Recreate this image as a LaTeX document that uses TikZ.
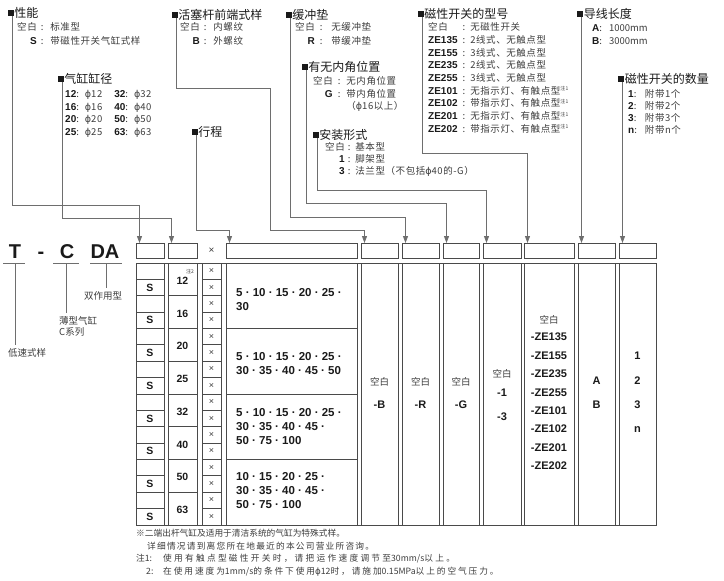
\documentclass[tikz,border=0pt]{standalone}
\usepackage{fontspec}
\setmainfont{Noto Sans CJK SC}
\newfontfamily\hv{Liberation Sans}
\newfontfamily\dv{DejaVu Sans}
\usetikzlibrary{positioning,arrows.meta}
\definecolor{ink}{HTML}{1A1A1A}
\definecolor{txt}{HTML}{3C3C3C}
\definecolor{wirec}{HTML}{6E6E6E}
\definecolor{frame}{HTML}{4A4A4A}
\newcommand{\dia}{{\dv ϕ}}
\newcommand{\code}[1]{{\hv\bfseries\fontsize{10}{12}\selectfont\color{ink}#1}}
\newcommand{\nt}[1]{\raisebox{3.5pt}{\fontsize{5}{5}\selectfont #1}}
\newcommand{\lat}[1]{{\addfontfeatures{LetterSpace=0}#1}}

\begin{document}
\begin{tikzpicture}[
    x=1pt, y=-1pt,
    >={Triangle[length=7pt,width=5pt]},
    sqm/.style={fill=ink, minimum size=6pt, inner sep=0pt},
    ttl/.style={anchor=west, inner sep=0pt, text=ink, font=\fontsize{12}{12}\selectfont},
    opt/.style={anchor=base west, inner sep=0pt, text=txt,
                font=\fontsize{9.5}{12.6}\selectfont\addfontfeatures{LetterSpace=6}},
    wire/.style={draw=wirec, line width=0.9pt},
    grid/.style={draw=frame, line width=0.8pt},
    hbox/.style={grid, inner sep=0pt, minimum height=15pt, anchor=north west},
    cell/.style={inner sep=0pt, text=ink, font=\hv\bfseries\fontsize{10.5}{12}\selectfont},
    code/.style={inner sep=0pt, text=ink, font=\hv\bfseries\fontsize{11}{13}\selectfont},
    stk/.style={anchor=west, align=left, inner sep=0pt, text=ink, font=\hv\bfseries\fontsize{11.5}{14}\selectfont},
    mul/.style={inner sep=0pt, text=txt, font=\hv\fontsize{9}{9}\selectfont},
    blank/.style={inner sep=0pt, text=txt, font=\fontsize{9.5}{11}\selectfont},
    big/.style={anchor=base, inner sep=0pt, text=ink, font=\hv\bfseries\fontsize{20}{20}\selectfont},
    lab/.style={inner xsep=0pt, inner ysep=3pt, text=txt, font=\fontsize{9.5}{11.5}\selectfont},
    note/.style={anchor=west, inner sep=0pt, text=txt, font=\fontsize{8.7}{10}\selectfont},
  ]
  \useasboundingbox (0,0) rectangle (724,581);

  % model code
  \node[big] (cT) at (15,258) {T};
  \node[big] (cD) at (41,258) {-};
  \node[big] (cC) at (67,258) {C};
  \node[big] (cA) at (105,258) {DA};
  \draw[wire] (3,263) -- (25,263);
  \draw[wire] (53,263) -- (79,263);
  \draw[wire] (90,263) -- (122,263);
  \coordinate (uT) at (15,263);
  \coordinate (uC) at (66,263);
  \coordinate (uA) at (106,263);
  \node[lab, anchor=north] (lA) at (103,288) {双作用型};
  \node[lab, anchor=north west, align=left] (lC) at (59,313) {薄型气缸\\C系列};
  \node[lab, anchor=north west] (lT) at (8,345) {低速式样};
  \draw[wire] (uA) -- (uA |- lA.north);
  \draw[wire] (uC) -- (uC |- lC.north);
  \draw[wire] (uT) -- (uT |- lT.north);

  % ordering boxes
  \foreach \n/\l/\r in {h1/136/164, h2/168/197, h4/226/357, hB/361/398, hR/402/439,
                        hG/443/479, hM/483/521, hZ/524/574, hL/578/615, hN/619/656}
    \node[hbox, minimum width={\r-\l}] (\n) at (\l,243) {};
  \node[mul, font=\hv\fontsize{10}{10}\selectfont] (hx) at (211.5,251) {×};
  \foreach \h/\a in {h1/a1, h2/a2, h4/a4, hB/a3, hR/a5, hG/a6, hM/a7, hZ/a8, hL/a9, hN/a10}
    \coordinate (\a) at ([xshift=3.5pt]\h.north west);

  % callouts
  \node[sqm] (m1) at (10.5,13) {};
  \node[ttl, right=0.5pt of m1] (t1) {性能};
  \node[opt] (o1) at (17,30.6) {\begin{tabular}[t]{@{}r@{\hspace{4pt}:\hspace{7pt}}l@{}}
      空白 & 标准型\\[1.4pt] \code{S} & 带磁性开关气缸式样\end{tabular}};

  \node[sqm] (m2) at (60.5,79) {};
  \node[ttl, right=0.5pt of m2] (t2) {气缸缸径};
  \node[opt] (o2) at (65,97.6) {\begin{tabular}[t]{@{}l@{\hspace{6pt}}l@{\hspace{12pt}}l@{\hspace{6pt}}l@{}}
      \code{12}: & \dia12 & \code{32}: & \dia32\\
      \code{16}: & \dia16 & \code{40}: & \dia40\\
      \code{20}: & \dia20 & \code{50}: & \dia50\\
      \code{25}: & \dia25 & \code{63}: & \dia63\end{tabular}};

  \node[sqm] (m3) at (174.5,15) {};
  \node[ttl, right=0.5pt of m3] (t3) {活塞杆前端式样};
  \node[opt] (o3) at (180,30.6) {\begin{tabular}[t]{@{}r@{\hspace{4pt}:\hspace{7pt}}l@{}}
      空白 & 内螺纹\\[1.4pt] \code{B} & 外螺纹\end{tabular}};

  \node[sqm] (m4) at (194.5,132) {};
  \node[ttl, right=0.5pt of m4] (t4) {行程};

  \node[sqm] (m5) at (288.5,15) {};
  \node[ttl, right=0.5pt of m5] (t5) {缓冲垫};
  \node[opt] (o5) at (295,30.6) {\begin{tabular}[t]{@{}r@{\hspace{5pt}:\hspace{9pt}}l@{}}
      空白 & 无缓冲垫\\[1.4pt] \code{R} & 带缓冲垫\end{tabular}};

  \node[sqm] (m6) at (304.5,67) {};
  \node[ttl, right=0.5pt of m6] (t6) {有无内角位置};
  \node[opt] (o6) at (313,84.6) {\begin{tabular}[t]{@{}r@{\hspace{5pt}:\hspace{6pt}}l@{}}
      空白 & 无内角位置\\ \code{G} & 带内角位置\\
      \multicolumn{1}{@{}r@{\hspace{13.7pt}}}{} & （\dia16以上）\end{tabular}};

  \node[sqm] (m7) at (315.5,135) {};
  \node[ttl, right=0.5pt of m7] (t7) {安装形式};
  \node[opt, font=\fontsize{9.5}{12}\selectfont\addfontfeatures{LetterSpace=6}] (o7) at (325,150.6) {\begin{tabular}[t]{@{}r@{\hspace{3pt}:\hspace{5pt}}l@{}}
      空白 & 基本型\\ \code{1} & 脚架型\\ \code{3} & 法兰型（不包括\dia40的-G）\end{tabular}};

  \node[sqm] (m8) at (420.5,14) {};
  \node[ttl, right=0.5pt of m8] (t8) {磁性开关的型号};
  \node[opt, font=\fontsize{9.5}{12.7}\selectfont\addfontfeatures{LetterSpace=6}] (o8) at (428,30.6) {\begin{tabular}[t]{@{}l@{\hspace{5pt}:\hspace{5pt}}l@{}}
      空白 & 无磁性开关\\
      \code{ZE135} & 2线式、无触点型\\
      \code{ZE155} & 3线式、无触点型\\
      \code{ZE235} & 2线式、无触点型\\
      \code{ZE255} & 3线式、无触点型\\
      \code{ZE101} & 无指示灯、有触点型\nt{注1}\\
      \code{ZE102} & 带指示灯、有触点型\nt{注1}\\
      \code{ZE201} & 无指示灯、有触点型\nt{注1}\\
      \code{ZE202} & 带指示灯、有触点型\nt{注1}\end{tabular}};

  \node[sqm] (m9) at (580,14) {};
  \node[ttl, right=0.5pt of m9] (t9) {导线长度};
  \node[opt, font=\fontsize{9.5}{13}\selectfont] (o9) at (592,31.6) {\begin{tabular}[t]{@{}l@{\hspace{7pt}}l@{}}
      \code{A}: & 1000mm\\ \code{B}: & 3000mm\end{tabular}};

  \node[sqm] (m10) at (621,79) {};
  \node[ttl, right=0.5pt of m10] (t10) {磁性开关的数量};
  \node[opt, font=\fontsize{9.5}{12}\selectfont\addfontfeatures{LetterSpace=6}] (o10) at (628,97.6) {\begin{tabular}[t]{@{}l@{\hspace{8pt}}l@{}}
      \code{1}: & 附带1个\\ \code{2}: & 附带2个\\ \code{3}: & 附带3个\\ \code{n}: & 附带n个\end{tabular}};

  % leader lines
  \draw[wire,->] ([xshift=1.5pt]m1.south) -- ([xshift=1.5pt]m1.south |- 0,205) -| (a1);
  \draw[wire,->] ([xshift=1.5pt]m2.south) -- ([xshift=1.5pt]m2.south |- 0,218) -| (a2);
  \draw[wire,->] ([xshift=1.5pt]m3.south) |- (270,88) |- (a3 |- 0,230) -- (a3);
  \draw[wire,->] ([xshift=1.5pt]m4.south) -- ([xshift=1.5pt]m4.south |- 0,230) -| (a4);
  \draw[wire,->] ([xshift=1.5pt]m5.south) -- ([xshift=1.5pt]m5.south |- 0,217) -| (a5);
  \draw[wire,->] ([xshift=1.5pt]m6.south) -- ([xshift=1.5pt]m6.south |- 0,203) -| (a6);
  \draw[wire,->] ([xshift=1.5pt]m7.south) -- ([xshift=1.5pt]m7.south |- 0,190) -| (a7);
  \draw[wire,->] ([xshift=1.5pt]m8.south) -- ([xshift=1.5pt]m8.south |- 0,153) -| (a8);
  \draw[wire,->] (m9.south -| a9) -- (a9);
  \draw[wire,->] (m10.south -| a10) -- (a10);

  % table
  \foreach \l/\r in {136/164, 168/197, 202/221, 226/357, 361/398, 402/439,
                     443/479, 483/521, 524/574, 578/615, 619/656}
    \draw[grid] (\l,263) rectangle (\r,525);
  \draw[grid] (136,263) -- (656,263);
  \draw[grid] (136,525) -- (656,525);
  \foreach \k in {1,...,15} {
    \draw[grid] (136,{263+\k*16.375}) -- (164,{263+\k*16.375});
    \draw[grid] (202,{263+\k*16.375}) -- (221,{263+\k*16.375});
  }
  \foreach \k in {2,4,...,14}
    \draw[grid] (168,{263+\k*16.375}) -- (197,{263+\k*16.375});
  \foreach \k in {4,8,12}
    \draw[grid] (226,{263+\k*16.375}) -- (357,{263+\k*16.375});

  \foreach \k in {0,...,7}
    \node[cell] (s\k) at (150,{263+(2*\k+1.5)*16.375}) {S};
  \foreach \d [count=\i from 0] in {12,16,20,25,32,40,50,63}
    \node[cell] (b\d) at (182.5,{263+(2*\i+1)*16.375+1.5}) {\d};
  \node[inner sep=0pt, text=txt, font=\fontsize{5}{5}\selectfont] (n2) at (190,272) {注2};
  \foreach \k in {0,...,15}
    \node[mul] (x\k) at (211.5,{263+(\k+0.5)*16.375}) {×};

  \node[stk] (g1) at (236,300) {5 · 10 · 15 · 20 · 25 ·\\30};
  \node[stk] (g2) at (236,364) {5 · 10 · 15 · 20 · 25 ·\\30 · 35 · 40 · 45 · 50};
  \node[stk] (g3) at (236,427) {5 · 10 · 15 · 20 · 25 ·\\30 · 35 · 40 · 45 ·\\50 · 75 · 100};
  \node[stk] (g4) at (236,491) {10 · 15 · 20 · 25 ·\\30 · 35 · 40 · 45 ·\\50 · 75 · 100};

  \foreach \c/\x/\t in {B/379.5/-B, R/420.5/-R, G/461/-G} {
    \node[blank] (e\c) at (\x,382) {空白};
    \node[code] (v\c) at (\x,405) {\t};
  }
  \node[blank] (eM) at (502,374) {空白};
  \node[code] (vM1) at (502,393) {-1};
  \node[code] (vM3) at (502,417) {-3};

  \node[blank] (eZ) at (549,320) {空白};
  \foreach \z [count=\i from 0] in {135,155,235,255,101,102,201,202}
    \node[code] (z\z) at (549,{337+\i*18.43}) {-ZE\z};

  \node[code] (vLA) at (596.5,381) {A};
  \node[code] (vLB) at (596.5,405) {B};
  \foreach \q/\y in {1/356, 2/381, 3/405, n/430}
    \node[code] (vN\q) at (637.5,\y) {\q};

  % notes
  \node[note] (f1) at (136,533) {※二端出杆气缸及适用于清洁系统的气缸为特殊式样。};
  \node[note, font=\fontsize{8.7}{10}\selectfont\addfontfeatures{LetterSpace=14}] (f2) at (147,546)
    {详细情况请到离您所在地最近的本公司营业所咨询。};
  \node[note, font=\fontsize{8.7}{10}\selectfont\addfontfeatures{LetterSpace=26}] (f3) at (136,559)
    {\makebox[27pt][l]{\lat{注1:}}使用有触点型磁性开关时，请把运作速度调节至\lat{30mm/s}以上。};
  \node[note, font=\fontsize{8.7}{10}\selectfont\addfontfeatures{LetterSpace=22}] (f4) at (146,572)
    {\makebox[17pt][l]{\lat{2:}}在使用速度为\lat{1mm/s}的条件下使用\dia\lat{12}时，请施加\lat{0.15MPa}以上的空气压力。};
\end{tikzpicture}
\end{document}
